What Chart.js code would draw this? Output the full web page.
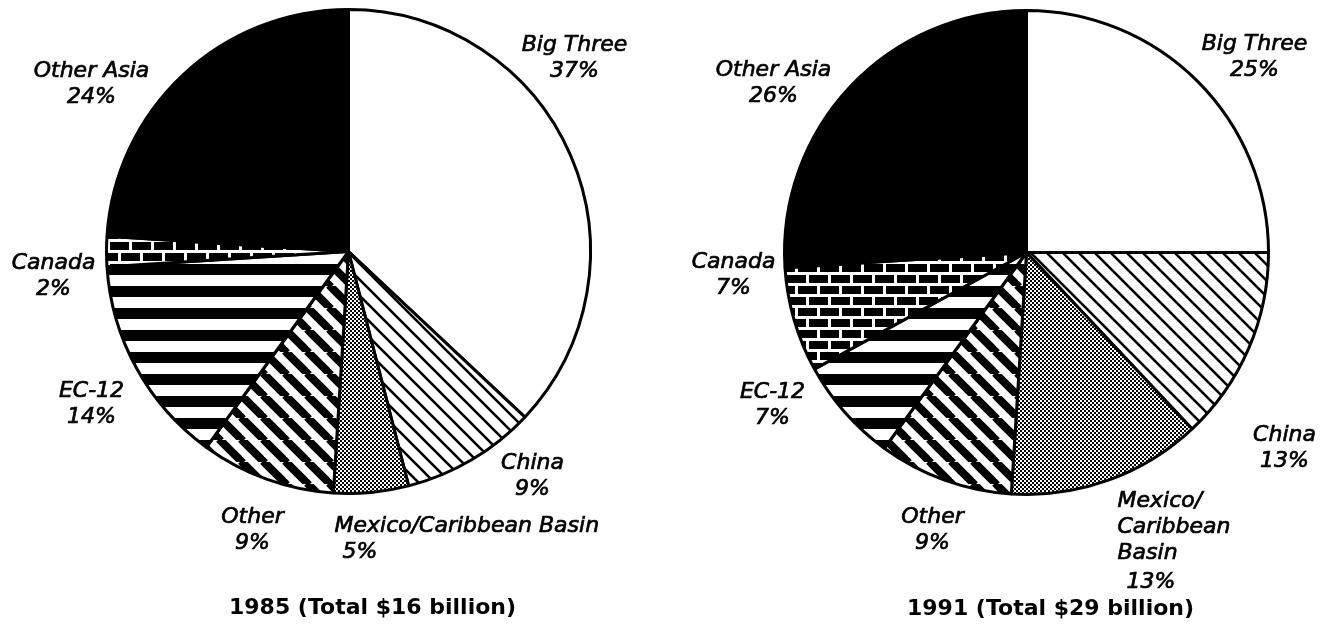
<!DOCTYPE html>
<html>
<head>
<meta charset="utf-8">
<script src="https://cdn.jsdelivr.net/npm/chart.js@4.4.0/dist/chart.umd.min.js"></script>
<style>
  body { margin: 0; background: #fff; }
  .wrap { position: absolute; top: 0; width: 666px; height: 633px; }
</style>
</head>
<body>
<div class="wrap" style="left:0"><canvas id="chart1985" width="666" height="633"></canvas></div>
<div class="wrap" style="left:666px"><canvas id="chart1991" width="666" height="633"></canvas></div>
<script>
// slices go clockwise from 12 o'clock
const regions = ["Big Three", "China", "Mexico/Caribbean Basin", "Other", "EC-12", "Canada", "Other Asia"];
const shares1985 = [37, 9, 5, 9, 14, 2, 24];
const shares1991 = [25, 13, 13, 9, 7, 7, 26];
const names1985 = [["Big Three"], ["China"], ["Mexico/Caribbean Basin"], ["Other"], ["EC-12"], ["Canada"], ["Other Asia"]];
const names1991 = [["Big Three"], ["China"], ["Mexico/", "Caribbean", "Basin"], ["Other"], ["EC-12"], ["Canada"], ["Other Asia"]];
const title1985 = "1985 (Total $16 billion)";
const title1991 = "1991 (Total $29 billion)";

// label placement, px from the pie centre (first baseline)
const labelPos1985 = [
    { dx: 226, dy: -201 },
    { dx: 184, dy: 217 },
    { dx: -14, dy: 280, align: "left", pctIndent: 8 },
    { dx: -96, dy: 271 },
    { dx: -257, dy: 145 },
    { dx: -295, dy: 17 },
    { dx: -257, dy: -175 }
];
const labelPos1991 = [
    { dx: 228, dy: -203 },
    { dx: 258, dy: 188 },
    { dx: 91, dy: 254, align: "left", pctIndent: 9, pctGap: 3, lineH: 26 },
    { dx: -94, dy: 270 },
    { dx: -254, dy: 145 },
    { dx: -293, dy: 15 },
    { dx: -253, dy: -177 }
];

function tile(w, h, draw) {
    const c = document.createElement("canvas");
    c.width = w;
    c.height = h;
    const g = c.getContext("2d");
    g.fillStyle = "#fff";
    g.fillRect(0, 0, w, h);
    g.fillStyle = "#000";
    g.strokeStyle = "#000";
    draw(g, w, h);
    return document.createElement("canvas").getContext("2d").createPattern(c, "repeat");
}

function diagonal(s, lw) {
    return tile(s, s, (g) => {
        g.lineWidth = lw;
        [-s, 0, s].forEach(x0 => {
            g.beginPath();
            g.moveTo(x0 - 1, -1);
            g.lineTo(x0 + s + 1, s + 1);
            g.stroke();
        });
    });
}

const fills = [
    "#fff",
    diagonal(16, 2.6),
    tile(4, 4, (g) => { g.fillRect(0, 0, 2, 2); g.fillRect(2, 2, 2, 2); }),
    diagonal(22, 8),
    tile(8, 22, (g) => { g.fillRect(0, 0, 8, 11); }),
    tile(22, 22, (g) => {
        g.fillRect(0, 0, 19, 8);
        g.fillRect(11, 11, 19, 8);
        g.fillRect(-11, 11, 19, 8);
    }),
    "#000"
];

const pieLabels = {
    id: "pieLabels",
    afterDraw(chart, args, opts) {
        const ctx = chart.ctx;
        const arc = chart.getDatasetMeta(0).data[0];
        const cx = arc.x, cy = arc.y;
        const shares = chart.data.datasets[0].data;
        ctx.save();
        ctx.fillStyle = "#000";
        ctx.strokeStyle = "#000";
        ctx.lineWidth = 0.7;
        ctx.textBaseline = "alphabetic";
        ctx.font = 'italic 22px "DejaVu Sans"';
        opts.positions.forEach((p, i) => {
            const lines = opts.names[i].concat([shares[i] + "%"]);
            const lh = p.lineH || 26;
            ctx.textAlign = p.align || "center";
            lines.forEach((t, j) => {
                const last = j === lines.length - 1;
                const x = cx + p.dx + (last ? (p.pctIndent || 0) : 0);
                const y = cy + p.dy + j * lh + (last ? (p.pctGap || 0) : 0);
                ctx.fillText(t, x, y);
                ctx.strokeText(t, x, y);
            });
        });
        ctx.font = 'bold 22px "DejaVu Sans"';
        ctx.textAlign = "center";
        ctx.fillText(opts.title, cx + 24, cy + 362);
        ctx.restore();
    }
};

function makePie(id, shares, names, positions, title, padding) {
    new Chart(document.getElementById(id), {
        type: "pie",
        data: {
            labels: regions,
            datasets: [{
                data: shares,
                backgroundColor: fills,
                borderColor: "#000",
                borderWidth: 3,
                hoverOffset: 0
            }]
        },
        options: {
            responsive: false,
            animation: false,
            events: [],
            layout: { padding: padding },
            plugins: {
                legend: { display: false },
                tooltip: { enabled: false },
                pieLabels: { names: names, positions: positions, title: title }
            }
        },
        plugins: [pieLabels]
    });
}

makePie("chart1985", shares1985, names1985, labelPos1985, title1985, { left: 105, right: 74, top: 8, bottom: 138 });
makePie("chart1991", shares1991, names1991, labelPos1991, title1991, { left: 117, right: 62, top: 9, bottom: 137 });
</script>
</body>
</html>
